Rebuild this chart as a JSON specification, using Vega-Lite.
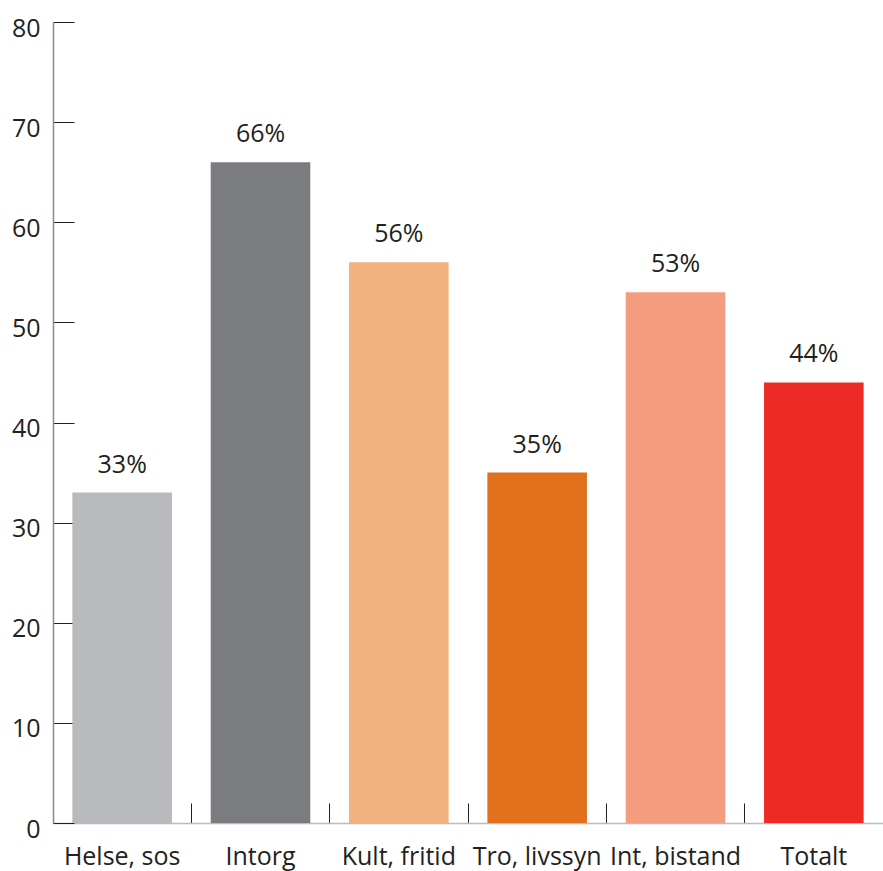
{
  "$schema": "https://vega.github.io/schema/vega-lite/v6.json",
  "width": 830,
  "height": 801,
  "autosize": {"type": "none"},
  "padding": {"left": 53, "top": 22, "right": 0, "bottom": 48},
  "background": "white",
  "config": {
    "view": {"stroke": null},
    "font": "Open Sans"
  },
  "data": {
    "values": [
      {"sektor": "Helse, sos", "andel": 33, "etikett": "33%", "farge": "#b9babe"},
      {"sektor": "Intorg", "andel": 66, "etikett": "66%", "farge": "#7b7c80"},
      {"sektor": "Kult, fritid", "andel": 56, "etikett": "56%", "farge": "#f2b27f"},
      {"sektor": "Tro, livssyn", "andel": 35, "etikett": "35%", "farge": "#e2711e"},
      {"sektor": "Int, bistand", "andel": 53, "etikett": "53%", "farge": "#f49c7e"},
      {"sektor": "Totalt", "andel": 44, "etikett": "44%", "farge": "#ee2a26"}
    ]
  },
  "encoding": {
    "x": {
      "field": "sektor",
      "type": "nominal",
      "sort": null,
      "scale": {"paddingInner": 0, "paddingOuter": 0},
      "axis": {
        "title": null,
        "labelAngle": 0,
        "labelFontSize": 25,
        "labelColor": "#231f20",
        "labelPadding": 41,
        "bandPosition": 0,
        "tickSize": -20,
        "tickColor": "#231f20",
        "tickWidth": 1,
        "domainColor": "#bcbcbc",
        "domainWidth": 1.5
      }
    },
    "y": {
      "field": "andel",
      "type": "quantitative",
      "scale": {"domain": [0, 80], "nice": false},
      "axis": {
        "title": null,
        "values": [0, 10, 20, 30, 40, 50, 60, 70, 80],
        "grid": false,
        "labelFontSize": 25,
        "labelColor": "#231f20",
        "labelPadding": 34,
        "labelOffset": 6,
        "tickSize": -21,
        "tickColor": "#231f20",
        "tickWidth": 1,
        "domainColor": "#8a8a8a",
        "domainWidth": 1.5
      }
    }
  },
  "layer": [
    {
      "mark": {"type": "bar", "width": {"band": 0.72}},
      "encoding": {
        "color": {"field": "farge", "type": "nominal", "scale": null, "legend": null}
      }
    },
    {
      "mark": {"type": "text", "dy": -28, "fontSize": 25, "color": "#231f20"},
      "encoding": {
        "text": {"field": "etikett", "type": "nominal"}
      }
    }
  ]
}
